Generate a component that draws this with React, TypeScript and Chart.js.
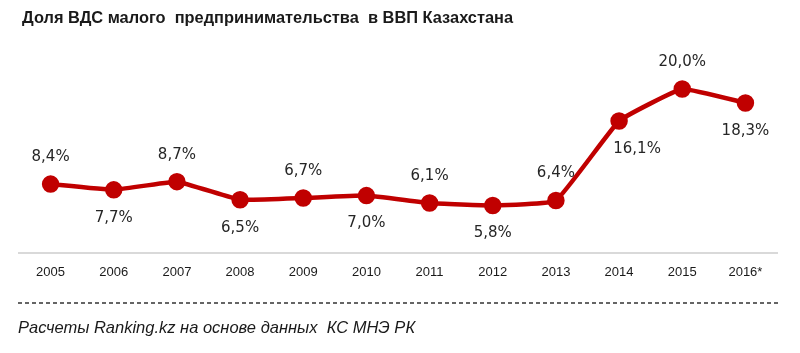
import React, { useEffect, useRef } from "react";
import { Chart, registerables } from "chart.js";

Chart.register(...registerables);

const categories = ["2005", "2006", "2007", "2008", "2009", "2010", "2011", "2012", "2013", "2014", "2015", "2016*"];
const shareValues = [8.4, 7.7, 8.7, 6.5, 6.7, 7.0, 6.1, 5.8, 6.4, 16.1, 20.0, 18.3];
const labelAbove = [true, false, true, false, true, false, true, false, true, false, true, false];
const titleText = "Доля ВДС малого  предпринимательства  в ВВП Казахстана";
const footerText = "Расчеты Ranking.kz на основе данных  КС МНЭ РК";

const RED = "#C00000";

const decorPlugin = {
  id: "decor",
  afterDatasetsDraw(chart: any) {
    const ctx = chart.ctx;
    const meta = chart.getDatasetMeta(0);
    ctx.save();
    ctx.fillStyle = "#262626";
    ctx.font = "15px 'DejaVu Sans'";
    ctx.textAlign = "center";
    ctx.textBaseline = "middle";
    meta.data.forEach((pt: any, i: number) => {
      const v = shareValues[i];
      const txt = v.toFixed(1).replace(".", ",") + "%";
      const dy = labelAbove[i] ? -27 : 28;
      const dx = i === 9 ? 18 : 0;
      ctx.fillText(txt, pt.x + dx, pt.y + dy);
    });
    ctx.restore();
  },
  afterDraw(chart: any) {
    const ctx = chart.ctx;
    ctx.save();
    ctx.fillStyle = "#1a1a1a";
    ctx.textAlign = "left";
    ctx.textBaseline = "middle";
    ctx.font = "bold 16.4px 'Liberation Sans'";
    ctx.fillText(titleText, 22, 18);
    // dashed line
    ctx.strokeStyle = "#333333";
    ctx.lineWidth = 1.3;
    ctx.setLineDash([4, 3]);
    ctx.beginPath();
    ctx.moveTo(18, 303);
    ctx.lineTo(780, 303);
    ctx.stroke();
    ctx.setLineDash([]);
    ctx.fillStyle = "#1a1a1a";
    ctx.font = "italic 16.5px 'Liberation Sans'";
    ctx.fillText(footerText, 18, 328);
    ctx.restore();
  },
};

export default function App() {
  const ref = useRef<HTMLCanvasElement | null>(null);
  useEffect(() => {
    if (!ref.current) return;
    const chart = new Chart(ref.current, {
      type: "line",
      data: {
        labels: categories,
        datasets: [
          {
            data: shareValues,
            borderColor: RED,
            backgroundColor: RED,
            borderWidth: 4.5,
            pointRadius: 6.5,
            pointHoverRadius: 6.5,
            pointBackgroundColor: RED,
            pointBorderColor: RED,
            tension: 0.1,
          },
        ],
      },
      options: {
        animation: false,
        responsive: false,
        maintainAspectRatio: false,
        layout: { padding: { left: 19, right: 23, top: 48, bottom: 0 } },
        plugins: { legend: { display: false }, tooltip: { enabled: false }, title: { display: false } },
        scales: {
          x: {
            offset: true,
            grid: { display: false, drawTicks: false },
            border: { display: true, color: "#d9d9d9", width: 2 },
            ticks: {
              padding: 12,
              color: "#1a1a1a",
              font: { family: "'Liberation Sans'", size: 13 },
              maxRotation: 0,
              autoSkip: false,
            },
            afterFit: (s: any) => {
              s.height = 100;
            },
          },
          y: {
            display: false,
            min: 0,
            max: 25,
          },
        },
      },
      plugins: [decorPlugin],
    });
    return () => chart.destroy();
  }, []);
  return (
    <div style={{ position: "fixed", left: 0, top: 0, width: 800, height: 353, background: "#fff" }}>
      <canvas ref={ref} width={800} height={353} style={{ width: 800, height: 353 }} />
    </div>
  );
}
